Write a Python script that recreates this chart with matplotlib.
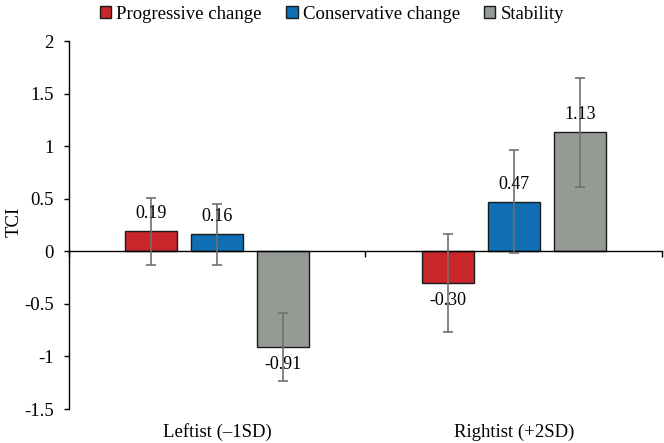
import matplotlib
matplotlib.use("Agg")
import matplotlib.pyplot as plt
import numpy as np
from matplotlib.transforms import blended_transform_factory

plt.rcParams['font.family'] = ['Liberation Serif', 'DejaVu Serif']

categories = ["Leftist (\u20131SD)", "Rightist (+2SD)"]
series_names = ["Progressive change", "Conservative change", "Stability"]
progressive = [0.19, -0.30]
conservative = [0.16, 0.47]
stability = [-0.91, 1.13]
progressive_err = [0.32, 0.465]
conservative_err = [0.29, 0.49]
stability_err = [0.32, 0.515]
yticks = [-1.5, -1, -0.5, 0, 0.5, 1, 1.5, 2]
ytick_labels = ["-1.5", "-1", "-0.5", "0", "0.5", "1", "1.5", "2"]

colors = ["#C8262B", "#106EB5", "#949B95"]
values = [progressive, conservative, stability]
errors = [progressive_err, conservative_err, stability_err]

FS = 13.5

fig = plt.figure(figsize=(6.64, 4.43), dpi=100)
ax = fig.add_axes([0.1032, 0.0767, 0.8945, 0.8307])

x = np.arange(len(categories))
width = 0.175
step = 0.222
for i, (vals, errs, col, name) in enumerate(zip(values, errors, colors, series_names)):
    pos = x + (i - 1) * step
    ax.bar(pos, vals, width, color=col, edgecolor="#1a1a1a", linewidth=1.0, label=name, zorder=2)
    ax.errorbar(pos, vals, yerr=errs, fmt="none", ecolor="#6f6f6f", elinewidth=1.2,
                capsize=3.5, capthick=1.2, zorder=3)
    for p, v in zip(pos, vals):
        off = 0.17 if v >= 0 else -0.17
        ax.text(p, v + off, f"{v:.2f}", ha="center", va="center", fontsize=13, zorder=4)

ax.set_xlim(-0.5, 1.5)
ax.set_ylim(-1.5, 2)
ax.set_yticks(yticks)
ax.set_yticklabels(ytick_labels, fontsize=FS)
fig.text(14 / 664, 1 - 222 / 443, "TCI", rotation=90, ha="center", va="center", fontsize=FS)

ax.spines['top'].set_visible(False)
ax.spines['right'].set_visible(False)
ax.spines['bottom'].set_position(('data', 0))
ax.spines['bottom'].set_linewidth(1.0)
ax.spines['left'].set_linewidth(1.0)
ax.set_xticks([-0.5, 0.5, 1.5])
ax.set_xticklabels(["", "", ""])
ax.tick_params(axis='x', direction='out', length=4, width=1.0)
ax.tick_params(axis='y', direction='out', length=3.6, width=1.0, pad=7)

trans = blended_transform_factory(ax.transData, ax.transAxes)
for xi, c in zip(x, categories):
    ax.text(xi, -0.0625, c, transform=trans, ha="center", va="center", fontsize=FS)

leg = fig.legend(loc="upper center", bbox_to_anchor=(0.5, 1.025), ncol=3, frameon=False,
                 fontsize=FS, handlelength=0.6, handleheight=0.6, handletextpad=0.27,
                 columnspacing=1.3)

fig.savefig("out.png", dpi=100)
